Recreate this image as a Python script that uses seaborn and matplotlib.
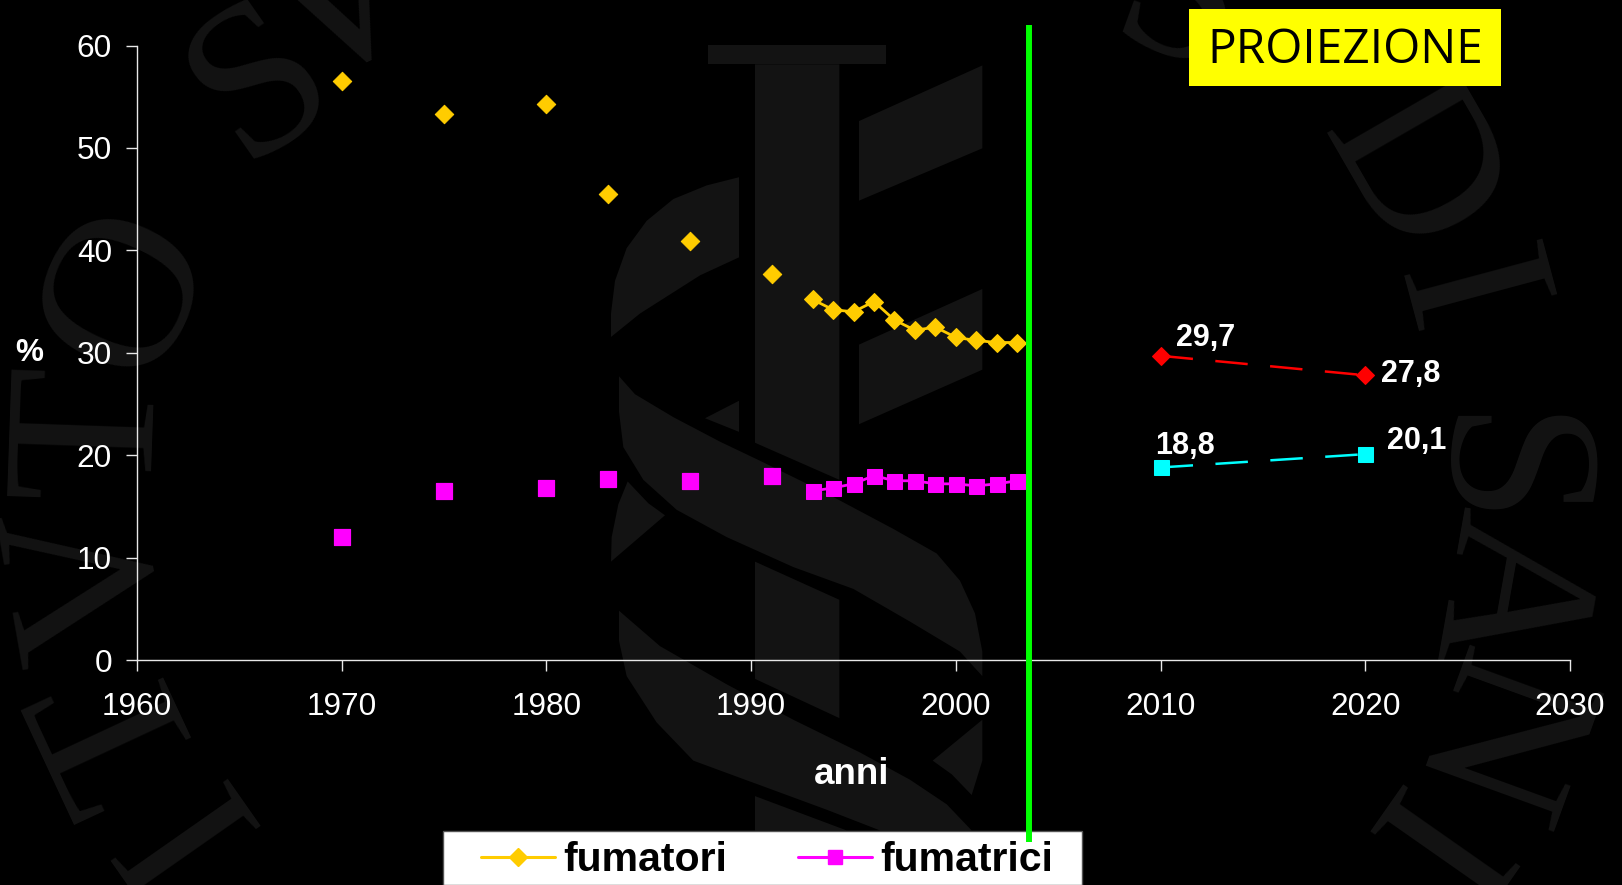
import matplotlib
matplotlib.use('Agg')
import matplotlib.pyplot as plt
from matplotlib.lines import Line2D
from matplotlib.patches import Rectangle, Polygon
import pandas as pd
import seaborn as sns

# Isolated survey years
years_early = [1970, 1975, 1980, 1983, 1987, 1991]
men_early = [56.5, 53.3, 54.3, 45.5, 40.9, 37.7]
women_early = [12.0, 16.5, 16.8, 17.7, 17.5, 18.0]

# Yearly series
years_late = [1993, 1994, 1995, 1996, 1997, 1998, 1999, 2000, 2001, 2002, 2003]
men_late = [35.2, 34.2, 34.0, 35.0, 33.2, 32.2, 32.5, 31.5, 31.2, 31.0, 31.0]
women_late = [16.5, 16.8, 17.2, 18.0, 17.5, 17.5, 17.2, 17.2, 17.0, 17.2, 17.5]

# Projections
years_proj = [2010, 2020]
men_proj = [29.7, 27.8]
women_proj = [18.8, 20.1]

x_ticks = [1960, 1970, 1980, 1990, 2000, 2010, 2020, 2030]
y_ticks = [0, 10, 20, 30, 40, 50, 60]

sns.set_theme(style='dark')
plt.rcParams['font.family'] = ['Liberation Sans', 'DejaVu Sans']

W, H = 1622, 885
fig = plt.figure(figsize=(W / 100, H / 100), dpi=100, facecolor='black')
ax = fig.add_axes([137 / W, 1 - 660 / H, (1570 - 137) / W, (660 - 45.5) / H], zorder=2)
ax.patch.set_alpha(0)


def fx(x):
    return x / W


def fy(y):
    return 1 - y / H


# Watermark logo behind the chart (outlines traced in a crop of the picture)
wm = '#131313'
logo = [
    [(445, 27), (978, 27), (978, 63), (445, 63)],
    [(585, 63), (838, 63), (838, 825), (585, 757)],
    [(585, 975), (838, 1045), (838, 1262), (585, 1190)],
    [(585, 1405), (860, 1468), (585, 1468)],
    [(897, 167), (1267, 65), (1267, 217), (897, 313)],
    [(897, 577), (1267, 475), (1267, 623), (897, 723)],
    [(537, 270), (537, 417), (420, 450), (240, 520), (153, 563), (153, 520), (165, 460), (200, 400), (260, 350), (340, 310), (440, 285)],
    [(177, 635), (225, 668), (340, 710), (480, 755), (600, 790), (800, 850), (1000, 915), (1130, 960), (1200, 1010), (1245, 1070), (1267, 1140),
     (1267, 1185), (1200, 1140), (1050, 1085), (880, 1025), (700, 985), (500, 930), (350, 880), (250, 825), (190, 765), (177, 700)],
    [(537, 680), (537, 737), (435, 712)],
    [(203, 828), (265, 868), (315, 890), (153, 975), (155, 930), (175, 870)],
    [(177, 1065), (300, 1130), (500, 1200), (700, 1265), (900, 1325), (1050, 1375), (1160, 1420), (1235, 1468), (960, 1468), (800, 1430),
     (600, 1385), (400, 1340), (290, 1270), (200, 1185), (177, 1120)],
    [(1267, 1265), (1267, 1340), (1235, 1403), (1175, 1365), (1118, 1340)],
]
for shape in logo:
    pts = [(fx(560 + zx / 3), fy(30 + zy / 1.834)) for zx, zy in shape]
    fig.add_artist(Polygon(pts, closed=True, transform=fig.transFigure, facecolor=wm, edgecolor='none', zorder=0))

rim = [('S', 262, 86, 35), ('V', 345, 10, 25), ('O', 131, 292, 65), ('T', 97, 432, 88),
       ('V', 97, 575, 100), ('T', 125, 725, 115), ('I', 190, 825, 125), ('S', 1180, 8, -20),
       ('D', 1405, 175, -60), ('I', 1455, 296, -75), ('S', 1490, 475, -90), ('A', 1500, 593, -100),
       ('N', 1485, 735, -110), ('I', 1417, 842, -125)]
for ch, x, y, rot in rim:
    fig.text(fx(x), fy(y), ch, fontsize=158, family='Liberation Serif', color=wm,
             ha='center', va='center', rotation=rot, zorder=0)

yellow = '#FFCC00'
magenta = '#FF00FF'

early = pd.DataFrame({'anno': years_early, 'fumatori': men_early, 'fumatrici': women_early})
late = pd.DataFrame({'anno': years_late, 'fumatori': men_late, 'fumatrici': women_late})
proj = pd.DataFrame({'anno': years_proj, 'fumatori': men_proj, 'fumatrici': women_proj})

sns.scatterplot(data=early, x='anno', y='fumatori', marker='D', s=88, color=yellow, edgecolor=yellow, ax=ax, zorder=3)
sns.scatterplot(data=early, x='anno', y='fumatrici', marker='s', s=118, color=magenta, edgecolor=magenta, ax=ax, zorder=3)
sns.lineplot(data=late, x='anno', y='fumatori', marker='D', markersize=9.4, color=yellow,
             markeredgecolor=yellow, linewidth=2, ax=ax, zorder=3)
sns.lineplot(data=late, x='anno', y='fumatrici', marker='s', markersize=10.8, color=magenta,
             markeredgecolor=magenta, linewidth=2, ax=ax, zorder=3)
sns.lineplot(data=proj, x='anno', y='fumatori', marker='D', markersize=9.4, color='#FF0000',
             markeredgecolor='#FF0000', linewidth=1.8, ax=ax, zorder=3).lines[-1].set_dashes((13, 9))
sns.lineplot(data=proj, x='anno', y='fumatrici', marker='s', markersize=10.8, color='#00FFFF',
             markeredgecolor='#00FFFF', linewidth=1.8, ax=ax, zorder=3).lines[-1].set_dashes((13, 9))

ax.set_xlim(1960, 2030)
ax.set_ylim(0, 60)
ax.set_xticks(x_ticks)
ax.set_yticks(y_ticks)
ax.grid(False)
for side in ['top', 'right']:
    ax.spines[side].set_visible(False)
for side in ['left', 'bottom']:
    ax.spines[side].set_color('#E8E8E8')
    ax.spines[side].set_linewidth(1)
ax.tick_params(axis='both', labelcolor='white', labelsize=22.7, length=8, width=1, direction='out',
               color='#E8E8E8', bottom=True, left=True)
ax.tick_params(axis='x', pad=15)
ax.tick_params(axis='y', pad=10)
ax.set_xlabel('')
ax.set_ylabel('')

# Data labels
lab = dict(color='white', fontsize=22, fontweight='bold', va='center', ha='center')
ax.text(2012.2, 31.4, '29,7', **lab)
ax.text(2022.2, 27.9, '27,8', **lab)
ax.text(2011.2, 20.9, '18,8', **lab)
ax.text(2022.5, 21.4, '20,1', **lab)

fig.text(fx(852), fy(775), 'anni', color='white', fontsize=26.5, fontweight='bold', ha='center', va='center', zorder=3)
fig.text(fx(29), fy(353), '%', color='white', fontsize=22.7, fontweight='bold', ha='center', va='center', zorder=3)

# Projection box
fig.patches.append(Rectangle((fx(1189), fy(86)), 312 / W, 77 / H, transform=fig.transFigure, facecolor='#FFFF00', edgecolor='none', zorder=3))
fig.text(fx(1345), fy(50), 'PROIEZIONE', color='black', fontsize=34.5, family='Open Sans', ha='center', va='center', zorder=4)

# Legend box
fig.patches.append(Rectangle((fx(443), 0), (1082 - 443) / W, (885 - 831) / H, transform=fig.transFigure, facecolor='white', edgecolor='#555555', linewidth=1, zorder=3))
handles = [Line2D([], [], color=yellow, marker='D', markersize=9.5, linewidth=2.2),
           Line2D([], [], color=magenta, marker='s', markersize=10.5, linewidth=2.2)]
leg = fig.legend(handles, ['fumatori', 'fumatrici'], loc='center', bbox_to_anchor=(fx(767), fy(860)), ncols=2,
                 frameon=False, prop={'family': 'Liberation Sans', 'weight': 'bold', 'size': 29.5},
                 handlelength=1.8, handletextpad=0.2, columnspacing=1.75)
leg.set_zorder(5)
for t in leg.get_texts():
    t.set_color('black')

# Green divider
fig.add_artist(Line2D([fx(1029), fx(1029)], [fy(25), fy(842)], color='#00FF00', linewidth=4.3, solid_capstyle='butt', zorder=4))

plt.savefig('out.png', dpi=100, facecolor='black')
